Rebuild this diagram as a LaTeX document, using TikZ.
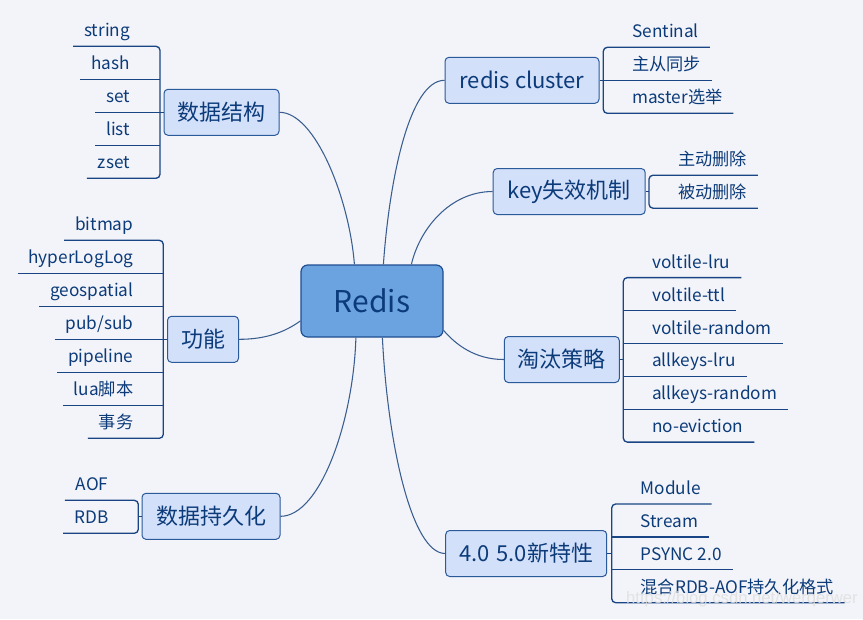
\documentclass[tikz,border=0pt]{standalone}
\usepackage{fontspec}
\setmainfont{Noto Sans CJK SC}
\newfontfamily\wmfont{Liberation Sans}
\usetikzlibrary{calc}
\definecolor{bgc}{HTML}{F3F4F9}
\definecolor{mainf}{HTML}{6BA3E0}
\definecolor{mainb}{HTML}{1F4E91}
\definecolor{brf}{HTML}{D3E0FA}
\definecolor{brb}{HTML}{2B5A9A}
\definecolor{txt}{HTML}{0C3B7A}
\definecolor{lnc}{HTML}{1A4584}
\definecolor{crv}{HTML}{3A5D90}
\begin{document}
\begin{tikzpicture}[x=0.75pt,y=-0.75pt,
  mainbox/.style={draw=mainb,fill=mainf,rounded corners=5pt,minimum width=106.5pt,minimum height=54pt,inner sep=0pt,text=txt,font=\fontsize{22.5pt}{26pt}\selectfont,line width=0.9pt},
  branch/.style={draw=brb,fill=brf,rounded corners=3pt,minimum height=34.5pt,inner sep=0pt,text=txt,font=\fontsize{16.5pt}{19pt}\selectfont,line width=0.75pt},
  leaf/.style={text=txt,font=\fontsize{12.9pt}{15pt}\selectfont,inner xsep=8.25pt,inner ysep=0pt,text height=10pt,text depth=7pt,outer sep=0pt},
  lleaf/.style={leaf,anchor=south east},
  rleaf/.style={leaf,anchor=south west},
  ln/.style={draw=lnc,line width=1pt},
  bk/.style={draw=lnc,line width=1pt,rounded corners=3pt},
  curve/.style={draw=crv,line width=0.8pt},
  wm/.style={text=white!75!gray,font=\wmfont\fontsize{12.5pt}{15pt}\selectfont,inner sep=0pt,opacity=0.85}
]
\fill[bgc] (0,0) rectangle (863,619);
\useasboundingbox (0,0) rectangle (863,619);

% main node
\node[mainbox] (redis) at (372,301) {Redis};

% branch nodes
\node[branch,minimum width=86.25pt] (ds) at (221.5,112.3) {数据结构};
\node[branch,minimum width=53.25pt] (gn) at (203,339.3) {功能};
\node[branch,minimum width=103.5pt] (ch) at (211,516.3) {数据持久化};
\node[branch,minimum width=115.5pt] (rc) at (522,80.3) {redis cluster};
\node[branch,minimum width=114pt] (key) at (569.2,191.5) {key失效机制};
\node[branch,minimum width=86.25pt] (tt) at (561.8,359.5) {淘汰策略};
\node[branch,minimum width=120.75pt] (new) at (526.2,553.5) {4.0\hspace{5pt}5.0新特性};

% curves
\draw[curve] (ds.east) .. controls +(36,0) and +(-5,-65) .. ($(redis.north west)+(54,0)$);
\draw[curve] (rc.west) .. controls +(-35,0) and +(6,-85) .. ($(redis.north west)+(83,0)$);
\draw[curve] (key.west) .. controls +(-43,0) and +(8,-35) .. ($(redis.north west)+(111,0)$);
\draw[curve] (tt.west) .. controls +(-29,0) and +(12,14) .. ($(redis.north east)+(0,66)$);
\draw[curve] (new.west) .. controls +(-34,0) and +(5,103) .. ($(redis.south west)+(82,0)$);
\draw[curve] (ch.east) .. controls +(40,0) and +(-2.5,83) .. ($(redis.south west)+(55.5,0)$);
\draw[curve] (gn.east) .. controls +(26.5,0) and +(-16,11.5) .. ($(redis.north west)+(0,56.5)$);

% ---- 数据结构
\coordinate (dsB) at (160,112.3);
\node[lleaf] (ds1) at (141,46.3) {string};
\node[lleaf] (ds2) at (141,79.3) {hash};
\node[lleaf] (ds3) at (141,112.3) {set};
\node[lleaf] (ds4) at (141,145.3) {list};
\node[lleaf] (ds5) at (141,178.3) {zset};
\draw[bk] (ds1.south west) -- (ds1.south west -| dsB) -- (ds5.south west -| dsB) -- (ds5.south west);
\draw[ln] (ds2.south west) -- (ds2.south west -| dsB);
\draw[ln] (ds3.south west) -- (ds.west);
\draw[ln] (ds4.south west) -- (ds4.south west -| dsB);

% ---- 功能
\coordinate (gnB) at (163.3,339.3);
\node[lleaf] (gn1) at (144.3,240.3) {bitmap};
\node[lleaf] (gn2) at (144.3,273.3) {hyperLogLog};
\node[lleaf] (gn3) at (144.3,306.3) {geospatial};
\node[lleaf] (gn4) at (144.3,339.3) {pub/sub};
\node[lleaf] (gn5) at (144.3,372.3) {pipeline};
\node[lleaf] (gn6) at (144.3,405.3) {lua脚本};
\node[lleaf] (gn7) at (144.3,438.3) {事务};
\draw[bk] (gn1.south west) -- (gn1.south west -| gnB) -- (gn7.south west -| gnB) -- (gn7.south west);
\draw[ln] (gn2.south west) -- (gn2.south west -| gnB);
\draw[ln] (gn3.south west) -- (gn3.south west -| gnB);
\draw[ln] (gn4.south west) -- (gn.west);
\draw[ln] (gn5.south west) -- (gn5.south west -| gnB);
\draw[ln] (gn6.south west) -- (gn6.south west -| gnB);

% ---- 数据持久化
\coordinate (chB) at (138.3,516.3);
\node[lleaf] (ch1) at (119.3,500.3) {AOF};
\node[lleaf] (ch2) at (119.3,533.3) {RDB};
\draw[bk] (ch1.south west) -- (ch1.south west -| chB) -- (ch2.south west -| chB) -- (ch2.south west);
\draw[ln] (chB) -- (ch.west);

% ---- redis cluster
\coordinate (rcB) at (603.3,80.3);
\node[rleaf] (rc1) at (621.3,47.3) {Sentinal};
\node[rleaf] (rc2) at (621.3,80.3) {主从同步};
\node[rleaf] (rc3) at (621.3,113.3) {master选举};
\draw[bk] (rc1.south east) -- (rc1.south east -| rcB) -- (rc3.south east -| rcB) -- (rc3.south east);
\draw[ln] (rc.east) -- (rc2.south east);

% ---- key失效机制
\coordinate (keyB) at (649,191.5);
\node[rleaf] (key1) at (667,175.2) {主动删除};
\node[rleaf] (key2) at (667,208.2) {被动删除};
\draw[bk] (key1.south east) -- (key1.south east -| keyB) -- (key2.south east -| keyB) -- (key2.south east);
\draw[ln] (key.east) -- (keyB);

% ---- 淘汰策略
\coordinate (ttB) at (623.3,359.5);
\node[rleaf] (tt1) at (641.3,277.6) {voltile-lru};
\node[rleaf] (tt2) at (641.3,310.5) {voltile-ttl};
\node[rleaf] (tt3) at (641.3,343.4) {voltile-random};
\node[rleaf] (tt4) at (641.3,376.3) {allkeys-lru};
\node[rleaf] (tt5) at (641.3,409.2) {allkeys-random};
\node[rleaf] (tt6) at (641.3,442.1) {no-eviction};
\draw[bk] (tt1.south east) -- (tt1.south east -| ttB) -- (tt6.south east -| ttB) -- (tt6.south east);
\foreach \i in {2,3,4,5} \draw[ln] (tt\i.south west -| ttB) -- (tt\i.south east);
\draw[ln] (tt.east) -- (ttB);

% ---- 4.0 5.0新特性
\coordinate (newB) at (611.7,553.5);
\node[rleaf] (new1) at (629.7,504) {Module};
\node[rleaf] (new2) at (629.7,536.9) {Stream};
\node[rleaf] (new3) at (629.7,569.8) {PSYNC 2.0};
\node[rleaf] (new4) at (629.7,602.7) {混合RDB-AOF持久化格式};
\draw[bk] (new1.south east) -- (new1.south east -| newB) -- (new4.south east -| newB) -- (new4.south east);
\foreach \i in {2,3} \draw[ln] (new\i.south west -| newB) -- (new\i.south east);
\draw[ln] (new.east) -- (newB);

% watermark
\node[wm] (wmark) at (742,599) {https://blog.csdn.net/werqerwer};
\end{tikzpicture}
\end{document}
